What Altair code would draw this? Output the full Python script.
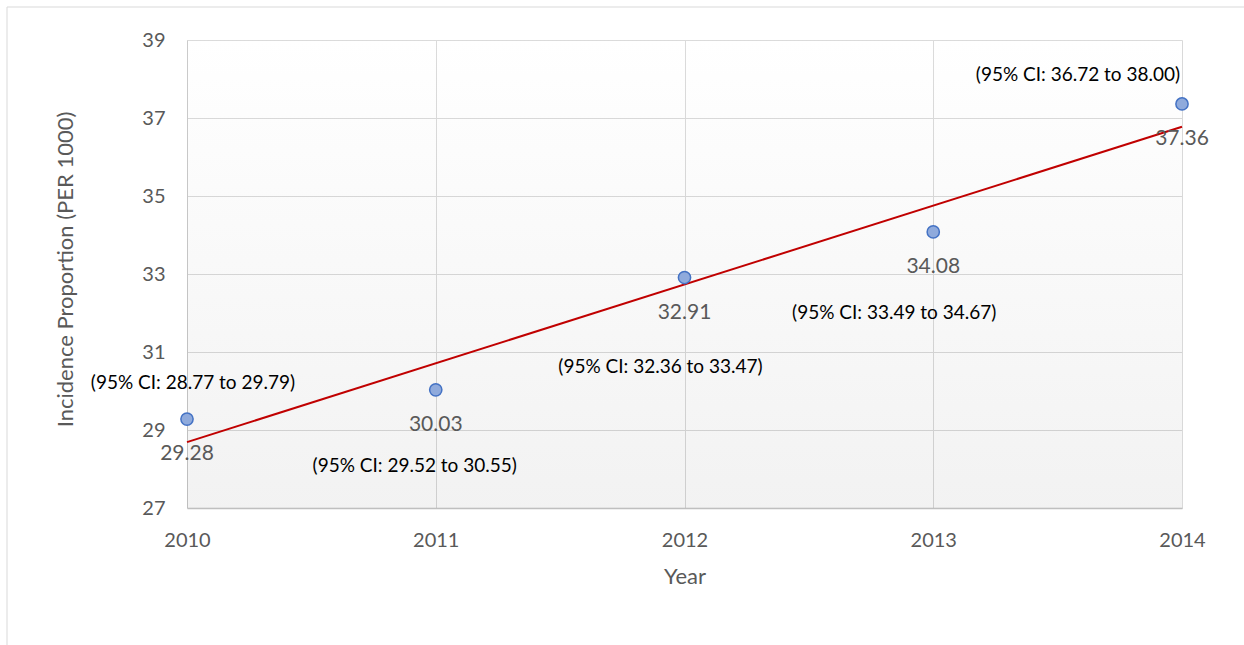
import altair as alt
import pandas as pd

# Annual incidence proportion (per 1000) with 95% confidence intervals
years = [2010, 2011, 2012, 2013, 2014]
incidence = [29.28, 30.03, 32.91, 34.08, 37.36]
ci_labels = [
    "(95% CI: 28.77 to 29.79)",
    "(95% CI: 29.52 to 30.55)",
    "(95% CI: 32.36 to 33.47)",
    "(95% CI: 33.49 to 34.67)",
    "(95% CI: 36.72 to 38.00)",
]
y_ticks = [27, 29, 31, 33, 35, 37, 39]

# pixel nudges for the CI annotations (dx, dy) so they avoid the trend line
ci_offsets = [(6, -36), (-21, 76), (-24, 89), (-39, 81), (-104, -29)]

W, H = 995, 468
FONT = "Lato"
GREY_TEXT = "#595959"

df = pd.DataFrame({"year": years, "value": incidence, "ci": ci_labels})

x_enc = alt.X(
    "year:Q",
    scale=alt.Scale(domain=[2010, 2014], nice=False, zero=False),
    axis=alt.Axis(
        values=years, format="d", title="Year", labelFlush=False,
        labelOverlap=False, ticks=False, tickSize=0, labelPadding=22,
        titlePadding=16, gridColor="#d9d9d9", domainColor="#bfbfbf",
        domainWidth=1.5,
    ),
)
y_enc = alt.Y(
    "value:Q",
    scale=alt.Scale(domain=[27, 39], nice=False, zero=False),
    axis=alt.Axis(
        values=y_ticks, title="Incidence Proportion (PER 1000)",
        ticks=False, tickSize=0, labelPadding=22, gridColor="#d9d9d9",
        domainColor="#c8c8c8", titleX=-122, titleY=229,
        titleBaseline="middle", titleAngle=270,
    ),
)

base = alt.Chart(df)
# single-row source for the decorative shapes so each is drawn once
single = alt.Chart(alt.Data(values=[{"k": 0}]))

# soft vertical shading of the plotting area
shade = single.mark_rect(
    color=alt.LinearGradient(
        gradient="linear",
        stops=[
            alt.GradientStop(color="#ffffff", offset=0),
            alt.GradientStop(color="#000000", offset=1),
        ],
        x1=0, x2=0, y1=0, y2=1,
    ),
    opacity=0.05,
).encode(
    x=alt.value(0), x2=alt.value(W), y=alt.value(0), y2=alt.value(H)
)

# thin frame around the whole figure
frame = single.mark_rect(
    filled=False, stroke="#d9d9d9", strokeWidth=1
).encode(
    x=alt.value(-180), x2=alt.value(1200), y=alt.value(-33), y2=alt.value(800)
)

trend = base.transform_regression(
    "year", "value", extent=[2010, 2014]
).mark_line(color="#c00000", strokeWidth=2).encode(x=x_enc, y=y_enc)

points = base.mark_point(
    filled=True, size=150, fill="#8faadc", stroke="#4472c4",
    strokeWidth=1.5, opacity=1,
).encode(x=x_enc, y=y_enc)

value_text = base.mark_text(
    dy=35, fontSize=21, font=FONT, color=GREY_TEXT, baseline="middle"
).encode(x=x_enc, y=y_enc, text=alt.Text("value:Q", format=".2f"))

layers = [shade, frame, trend, points, value_text]
for i, (dx, dy) in enumerate(ci_offsets):
    layers.append(
        base.transform_filter(alt.datum.year == years[i])
        .mark_text(dx=dx, dy=dy, fontSize=19, font=FONT, color="#000000",
                   baseline="middle")
        .encode(x=x_enc, y=y_enc, text="ci:N")
    )

chart = alt.layer(*layers).properties(
    width=W, height=H,
    autosize=alt.AutoSizeParams(type="none"),
    padding={"left": 187, "top": 40, "right": 62, "bottom": 137},
    background="#ffffff",
).configure_view(
    stroke=None
).configure_axis(
    labelFont=FONT, titleFont=FONT, labelFontSize=20, titleFontSize=22,
    labelColor=GREY_TEXT, titleColor=GREY_TEXT, titleFontWeight="normal",
)

chart.save("out.html", embed_options={"renderer": "svg", "actions": False})
